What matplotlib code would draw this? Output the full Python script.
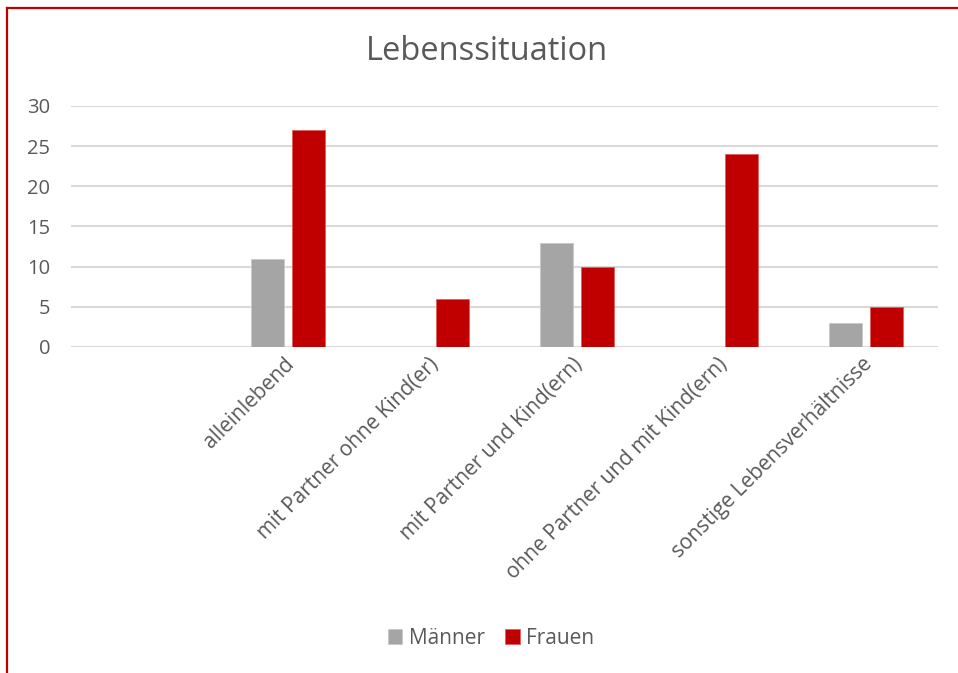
import matplotlib
matplotlib.use("Agg")
import matplotlib.pyplot as plt
import numpy as np
from matplotlib.lines import Line2D

categories = ["", "alleinlebend", "mit Partner ohne Kind(er)", "mit Partner und Kind(ern)",
              "ohne Partner und mit Kind(ern)", "sonstige Lebensverhältnisse"]
maenner = [0, 11, 0, 13, 0, 3]
frauen = [0, 27, 6, 10, 24, 5]
series_names = ["Männer", "Frauen"]
yticks = [0, 5, 10, 15, 20, 25, 30]

plt.rcParams['font.family'] = ['Open Sans', 'DejaVu Sans']
txt = '#595959'
grey = '#A5A5A5'
red = '#C00000'

W, H = 958, 673
fig = plt.figure(figsize=(W/100, H/100), dpi=100)
ax = fig.add_axes([71/W, 1-347/H, (938-71)/W, (347-106)/H])

x = np.arange(len(categories))
bw = 0.228
off = 0.143
ax.bar(x - off, maenner, bw, color=grey, edgecolor='#C8C8C8', linewidth=0.6, label=series_names[0], zorder=3)
ax.bar(x + off, frauen, bw, color=red, edgecolor='#E06060', linewidth=0.6, label=series_names[1], zorder=3)

ax.set_xlim(-0.5, len(categories)-0.5)
ax.set_ylim(0, 30)
ax.set_yticks(yticks)
for y in yticks:
    ax.axhline(y, color='#D9D9D9', linewidth=1.5, zorder=1)
for s in ax.spines.values():
    s.set_visible(False)
ax.tick_params(axis='y', length=0, pad=15, labelsize=14.5, labelcolor=txt)
ax.tick_params(axis='x', length=0)
ax.set_xticks(x)
ax.set_xticklabels([])
for xi, lab in zip(x, categories):
    ax.annotate(lab, xy=(xi, 0), xycoords='data', xytext=(-3, -5), textcoords='offset points',
                rotation=45, rotation_mode='anchor', ha='right', va='top',
                fontsize=15, color=txt)

fig.text(487/W, 1-52/H, "Lebenssituation", ha='center', va='center', fontsize=23.5, color=txt)

leg = fig.legend(loc='center', bbox_to_anchor=(491/W, 1-638/H), ncol=2, frameon=False,
                 fontsize=15, handlelength=0.7, handleheight=0.7, handletextpad=0.3,
                 columnspacing=1.0, labelcolor=txt)

# red border
fig.add_artist(Line2D([7/W, 7/W], [0, 1-8/H], color=red, linewidth=1.6, transform=fig.transFigure))
fig.add_artist(Line2D([7/W, 1], [1-8/H, 1-8/H], color=red, linewidth=1.6, transform=fig.transFigure))

fig.savefig("out.png", dpi=100)
